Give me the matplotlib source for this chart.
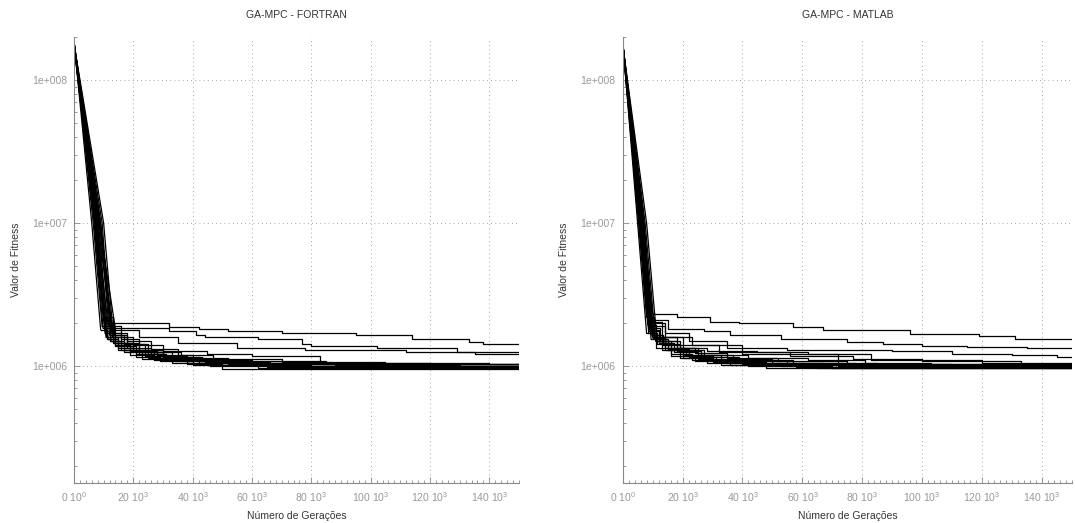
import numpy as np
from matplotlib import pyplot as plt
from matplotlib.ticker import FixedLocator, LogLocator, NullFormatter

plt.rcParams['font.family'] = ['Liberation Sans', 'DejaVu Sans']
plt.rcParams['mathtext.fontset'] = 'custom'
plt.rcParams['mathtext.rm'] = 'Liberation Sans'
plt.rcParams['mathtext.it'] = 'Liberation Sans'

# generations in thousands, fitness in millions
# first three points of each run = fast initial descent, the rest are steps
FORTRAN_GENS = [
    [0, 8.0, 12.5, 32, 42, 52, 70, 95, 114, 133, 138],
    [0, 7.5, 11.5, 13, 32, 41, 44, 62, 77, 80, 102, 129],
    [0, 8.5, 14, 22, 35, 55, 78, 112, 135],
    [0, 9, 13, 20, 30, 45, 60, 83],
    [0, 7, 10.5, 14, 20, 28, 40, 60, 90],
    [0, 6.5, 9.5, 12, 17, 25, 34, 50, 75],
    [0, 8, 11, 15, 22, 31, 48, 70, 110],
    [0, 7.2, 10, 13, 18, 26, 36, 55, 95, 130],
    [0, 9.5, 12.5, 16, 24, 32, 45, 65],
    [0, 6, 9, 11, 15, 21, 30, 42, 58, 80],
    [0, 8.8, 12, 17, 24, 36, 52, 85, 120],
    [0, 7.8, 11, 14, 19, 27, 38, 50],
    [0, 7, 10, 12.5, 16, 22, 30, 44, 66, 100],
    [0, 8.3, 11.5, 15, 21, 29, 40, 62],
    [0, 9, 13, 18, 26, 35, 47, 70, 105, 140],
    [0, 6.8, 9.8, 13, 17, 23, 33, 46, 80],
    [0, 7.5, 10.8, 14, 20, 28, 37, 52, 77],
    [0, 8.6, 12.2, 16, 22, 30, 42, 57, 90],
    [0, 10, 13.5, 19, 27, 38, 54, 76],
    [0, 7.3, 10.2, 13.5, 18, 25, 33, 43, 58, 88, 125],
]
FORTRAN_VALS = [
    [185, 10, 2.0, 1.88, 1.83, 1.76, 1.72, 1.66, 1.56, 1.48, 1.42],
    [180, 10, 1.95, 1.85, 1.75, 1.66, 1.60, 1.54, 1.44, 1.38, 1.34, 1.26],
    [178, 10, 1.8, 1.6, 1.45, 1.35, 1.29, 1.25, 1.21],
    [182, 10, 1.6, 1.4, 1.27, 1.22, 1.17, 1.04],
    [175, 10, 1.7, 1.45, 1.3, 1.2, 1.1, 1.03, 0.99],
    [190, 10, 1.9, 1.5, 1.3, 1.15, 1.08, 1.02, 0.98],
    [180, 10, 1.6, 1.35, 1.22, 1.12, 1.06, 1.01, 0.97],
    [185, 10, 2.2, 1.6, 1.35, 1.18, 1.1, 1.05, 1.02, 1.0],
    [178, 10, 1.5, 1.3, 1.18, 1.1, 1.02, 0.98],
    [188, 10, 1.8, 1.55, 1.38, 1.22, 1.12, 1.06, 1.02, 0.99],
    [183, 10, 1.65, 1.42, 1.25, 1.15, 1.08, 1.05, 1.03],
    [176, 10, 1.75, 1.4, 1.2, 1.1, 1.03, 0.96],
    [181, 10, 2.1, 1.7, 1.45, 1.25, 1.14, 1.07, 1.03, 1.01],
    [186, 10, 1.55, 1.3, 1.16, 1.08, 1.02, 0.97],
    [179, 10, 1.7, 1.5, 1.33, 1.2, 1.12, 1.07, 1.05, 1.04],
    [184, 10, 1.85, 1.45, 1.25, 1.13, 1.06, 1.0, 0.97],
    [182, 10, 1.6, 1.38, 1.27, 1.17, 1.09, 1.03, 1.0],
    [177, 10, 1.9, 1.55, 1.3, 1.16, 1.09, 1.04, 1.01],
    [180, 10, 1.45, 1.28, 1.18, 1.11, 1.04, 0.98],
    [187, 10, 2.0, 1.65, 1.42, 1.26, 1.16, 1.09, 1.05, 1.02, 1.0],
]

MATLAB_GENS = [
    [0, 6.5, 10, 18, 29, 39, 57, 67, 96, 119, 131],
    [0, 6, 9, 15, 27, 36, 53, 75, 87, 100, 115, 135],
    [0, 5.5, 8.5, 14, 22, 35, 55, 90, 110, 130, 145],
    [0, 7, 10.5, 20, 32, 56, 77, 100, 133],
    [0, 6.2, 9.2, 14, 23, 40, 72],
    [0, 5.8, 8.8, 12, 19, 28, 45, 62, 83, 120],
    [0, 5, 8, 11, 16, 24, 36, 60],
    [0, 6.5, 9.5, 13, 19, 30, 48, 80],
    [0, 5.3, 8, 10.5, 14, 20, 28, 42, 65],
    [0, 7.5, 11, 15, 22, 33, 50, 78, 110],
    [0, 6, 9, 12, 17, 25, 34, 53, 70],
    [0, 6.8, 9.8, 13.5, 20, 27, 40, 58],
    [0, 5.6, 8.4, 11, 15, 22, 31, 45, 72, 105],
    [0, 7.2, 10.2, 14, 21, 30, 44, 67, 98],
    [0, 6.3, 9.4, 12.5, 18, 26, 39, 55, 85, 125],
    [0, 5.9, 8.7, 11.5, 16, 23, 33, 48],
    [0, 8, 11.5, 16, 24, 35, 52, 75, 100],
    [0, 6.6, 9.6, 13, 18, 25, 37, 57, 88],
    [0, 7, 10, 14, 19, 27, 42, 62, 81, 103],
]
MATLAB_VALS = [
    [185, 10, 2.33, 2.21, 2.04, 1.99, 1.88, 1.80, 1.69, 1.63, 1.56],
    [182, 10, 2.1, 1.83, 1.75, 1.65, 1.56, 1.48, 1.42, 1.38, 1.36, 1.34],
    [180, 10, 2.0, 1.7, 1.5, 1.35, 1.3, 1.27, 1.22, 1.19, 1.16],
    [178, 10, 1.6, 1.4, 1.25, 1.18, 1.12, 1.08, 1.0],
    [186, 10, 1.9, 1.6, 1.4, 1.22, 1.02],
    [183, 10, 1.75, 1.5, 1.35, 1.28, 1.25, 1.22, 1.1, 1.05],
    [188, 10, 1.7, 1.35, 1.18, 1.08, 1.02, 0.98],
    [181, 10, 1.55, 1.3, 1.15, 1.07, 1.02, 0.99],
    [184, 10, 2.2, 1.6, 1.3, 1.15, 1.06, 1.01, 0.97],
    [179, 10, 1.5, 1.32, 1.2, 1.12, 1.06, 1.03, 1.01],
    [187, 10, 1.8, 1.45, 1.25, 1.12, 1.05, 1.0, 0.97],
    [182, 10, 1.65, 1.4, 1.2, 1.1, 1.03, 0.98],
    [185, 10, 1.95, 1.55, 1.3, 1.16, 1.08, 1.04, 1.01, 0.99],
    [180, 10, 1.58, 1.34, 1.18, 1.1, 1.05, 1.02, 0.98],
    [186, 10, 1.85, 1.5, 1.28, 1.16, 1.09, 1.05, 1.03, 1.02],
    [183, 10, 1.72, 1.42, 1.22, 1.1, 1.02, 0.97],
    [178, 10, 1.5, 1.35, 1.24, 1.15, 1.08, 1.04, 1.02],
    [184, 10, 2.05, 1.6, 1.35, 1.2, 1.1, 1.03, 1.0],
    [181, 10, 1.6, 1.42, 1.3, 1.2, 1.14, 1.1, 1.06, 1.03],
]

TITLES = ["GA-MPC - FORTRAN", "GA-MPC - MATLAB"]
XTICKS = [0, 20e3, 40e3, 60e3, 80e3, 100e3, 120e3, 140e3]
XTICK_LABELS = [r"0 $10^{0}$", r"20 $10^{3}$", r"40 $10^{3}$", r"60 $10^{3}$",
                r"80 $10^{3}$", r"100 $10^{3}$", r"120 $10^{3}$", r"140 $10^{3}$"]
YTICKS = [1e6, 1e7, 1e8]
YTICK_LABELS = ["1e+006", "1e+007", "1e+008"]
XMAX = 150e3
YLIM = (1.52e5, 2.0e8)

GRAY = '#888888'
LABEL_GRAY = '#999999'


def draw_runs(ax, gens, vals):
    for g, v in zip(gens, vals):
        g = np.array(g) * 1e3
        v = np.array(v) * 1e6
        g = np.append(g, XMAX)
        v = np.append(v, v[-1])
        ax.plot(g[:3], v[:3], color='black', lw=0.9)
        ax.plot(g[2:], v[2:], color='black', lw=0.9, drawstyle='steps-post')


def style_axes(ax, title):
    ax.set_yscale('log')
    ax.set_xlim(0, XMAX)
    ax.set_ylim(*YLIM)
    ax.spines['top'].set_visible(False)
    ax.spines['right'].set_visible(False)
    for s in ('left', 'bottom'):
        ax.spines[s].set_color(GRAY)
        ax.spines[s].set_linewidth(0.8)
    ax.xaxis.set_major_locator(FixedLocator(XTICKS))
    ax.set_xticklabels(XTICK_LABELS)
    ax.xaxis.set_minor_locator(FixedLocator(np.arange(0, XMAX + 1, 2e3)))
    ax.yaxis.set_major_locator(FixedLocator(YTICKS))
    ax.set_yticklabels(YTICK_LABELS)
    ax.yaxis.set_minor_locator(LogLocator(base=10, subs=np.arange(2, 10)))
    ax.yaxis.set_minor_formatter(NullFormatter())
    ax.tick_params(which='both', direction='in', colors=GRAY, labelcolor=LABEL_GRAY,
                   labelsize=7.5, width=0.6)
    ax.tick_params(which='major', length=4, pad=5)
    ax.tick_params(which='minor', length=2.5)
    ax.grid(True, which='major', linestyle=(0, (1, 4)), color='#888888', linewidth=0.6)
    ax.set_axisbelow(True)
    ax.set_title(title, fontsize=7.5, color='#333333', pad=14)
    ax.set_xlabel("Número de Gerações", fontsize=7.5, color='#333333')
    ax.set_ylabel("Valor de Fitness", fontsize=7.5, color='#333333')
    ax.xaxis.set_label_coords(0.5, -0.062)
    ax.yaxis.set_label_coords(-0.12, 0.5)


fig = plt.figure(figsize=(10.75, 5.23), dpi=100)
ax1 = fig.add_axes([0.0688, 0.0759, 0.414, 0.8534])
ax2 = fig.add_axes([0.5792, 0.0759, 0.418, 0.8534])

draw_runs(ax1, FORTRAN_GENS, FORTRAN_VALS)
draw_runs(ax2, MATLAB_GENS, MATLAB_VALS)
style_axes(ax1, TITLES[0])
style_axes(ax2, TITLES[1])

plt.savefig('out.png', dpi=100)
